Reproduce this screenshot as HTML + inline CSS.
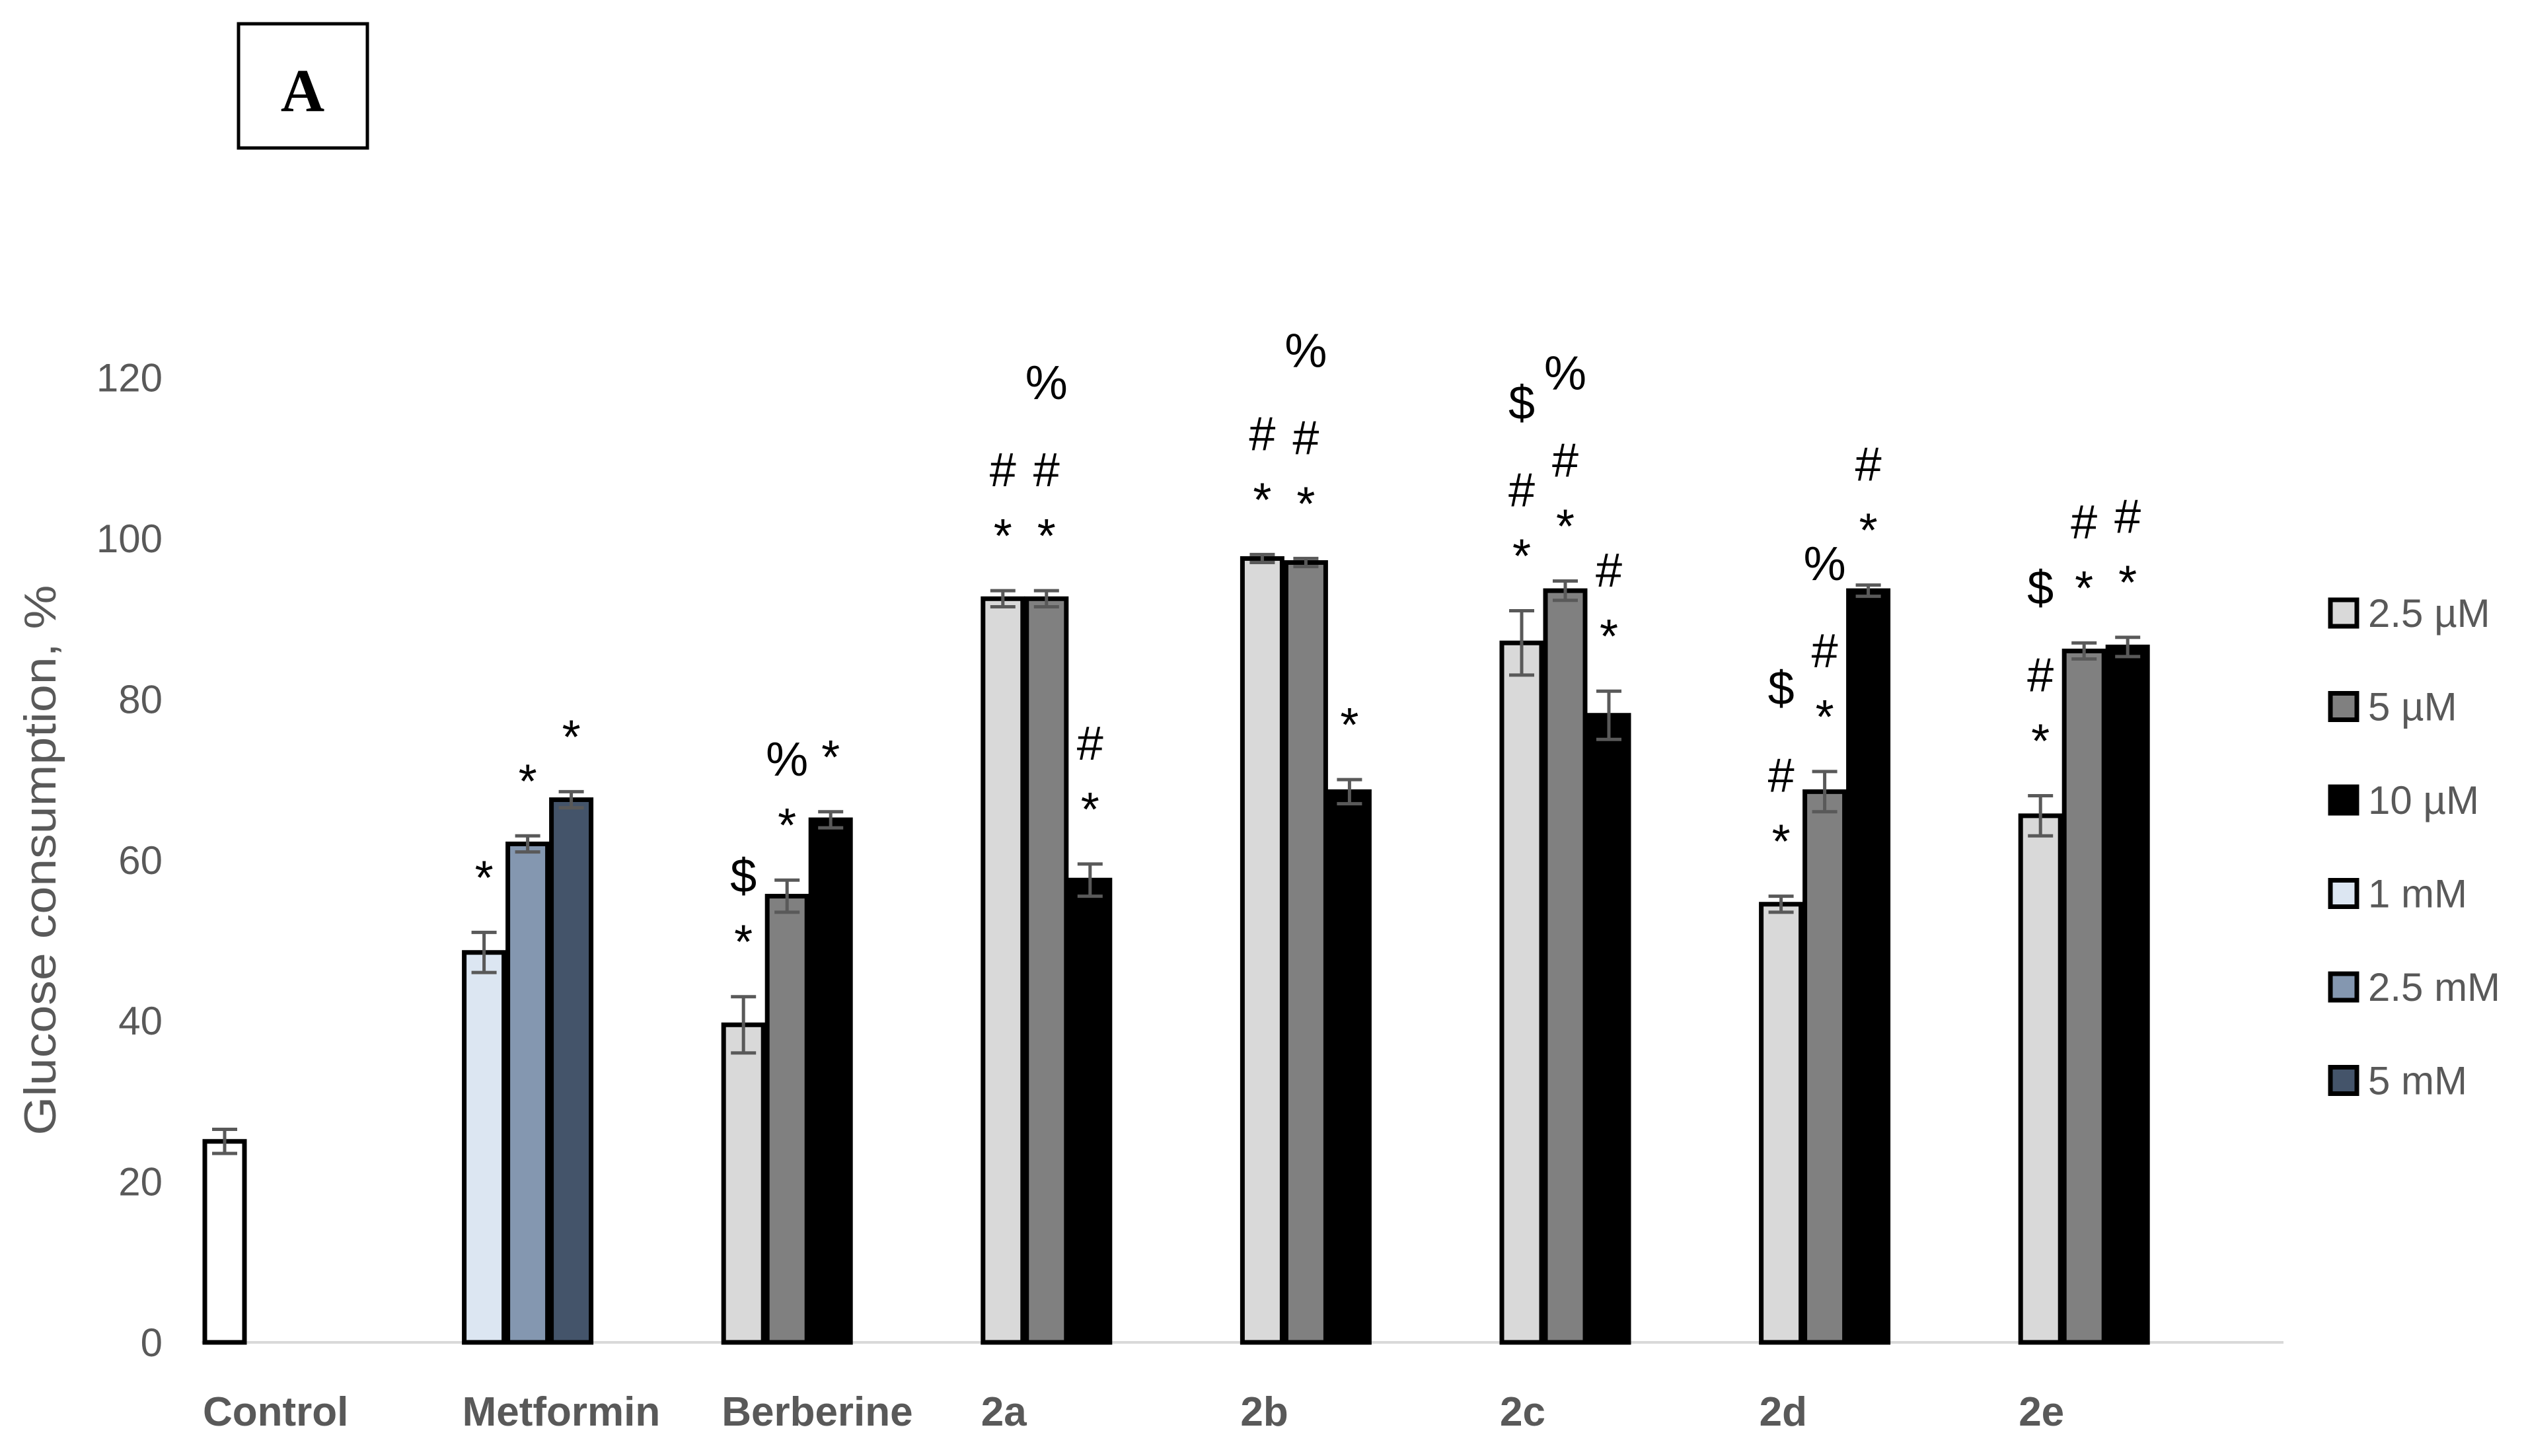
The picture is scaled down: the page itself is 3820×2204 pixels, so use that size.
<!DOCTYPE html>
<html><head><meta charset="utf-8"><style>
html,body{margin:0;padding:0;background:#fff;}
svg{display:block;}
</style></head><body>
<svg id="chart" width="3820" height="2204" viewBox="0 0 3820 2204" xmlns="http://www.w3.org/2000/svg">
<rect x="0" y="0" width="3820" height="2204" fill="#fff"/>
<rect x="361" y="36" width="195" height="188" fill="none" stroke="#000" stroke-width="5"/>
<text x="458" y="168" text-anchor="middle" font-family="Liberation Serif, serif" font-weight="bold" font-size="92" fill="#000">A</text>
<text transform="translate(84,1302) rotate(-90)" text-anchor="middle" textLength="833" lengthAdjust="spacingAndGlyphs" font-family="Liberation Sans, sans-serif" font-size="68" fill="#595959">Glucose consumption, %</text>
<g id="yticks"></g>
<g id="bars"></g>
<g id="xlabels"></g>
<g id="legend"></g>
</svg>
<script>
const categories = ["Control","Metformin","Berberine","2a","2b","2c","2d","2e"];
const values = [
  [25],
  [48.5,62,67.5],
  [39.5,55.5,65],
  [92.5,92.5,57.5],
  [97.5,97,68.5],
  [87,93.5,78],
  [54.5,68.5,93.5],
  [65.5,86,86.5]
];
const errors = [
  [1.5],
  [2.5,1,1],
  [3.5,2,1],
  [1,1,2],
  [0.5,0.5,1.5],
  [4,1.2,3],
  [1,2.5,0.7],
  [2.5,1,1.2]
];
const annotations = [
  [""],
  ["*","*","*"],
  ["*$","*%","*"],
  ["*#","*#%","*#"],
  ["*#","*#%","*"],
  ["*#$","*#%","*#"],
  ["*#$","*#%","*#"],
  ["*#$","*#","*#"]
];
const seriesColors = [
  ["#ffffff"],
  ["#dce6f2","#8497b0","#44546a"],
  ["#d9d9d9","#808080","#000000"],
  ["#d9d9d9","#808080","#000000"],
  ["#d9d9d9","#808080","#000000"],
  ["#d9d9d9","#808080","#000000"],
  ["#d9d9d9","#808080","#000000"],
  ["#d9d9d9","#808080","#000000"]
];
const yTicks = [0,20,40,60,80,100,120];
const legendLabels = ["2.5 µM","5 µM","10 µM","1 mM","2.5 mM","5 mM"];
const legendColors = ["#d9d9d9","#808080","#000000","#dce6f2","#8497b0","#44546a"];

const NS = "http://www.w3.org/2000/svg";
const Y0 = 2032, PXU = 12.17;
function y(v){ return Y0 - v*PXU; }
function x(ci, bi){ return 307 + 392.6*ci + bi*66; }
const BW = 66;
const LEVEL = [-50,-158,-290];
function mk(tag, attrs, parent, text){
  const e = document.createElementNS(NS, tag);
  for (const k in attrs) e.setAttribute(k, attrs[k]);
  if (text !== undefined) e.textContent = text;
  parent.appendChild(e);
  return e;
}
const gy = document.getElementById('yticks');
yTicks.forEach(t=>{
  const e = mk('text',{x:246,y:y(t)+21,'text-anchor':'end','font-family':'Liberation Sans, sans-serif','font-size':60,fill:'#595959'},gy,String(t));
  
  
});
const axis = mk('line',{x1:305,x2:3456,y1:Y0,y2:Y0,stroke:'#d9d9d9','stroke-width':4},gy);



const gb = document.getElementById('bars');
values.forEach((arr,ci)=>{
  arr.forEach((v,bi)=>{
    const bx = x(ci,bi);
    const r = mk('rect',{x:bx+3,y:y(v),width:BW-6,height:Y0-y(v),fill:seriesColors[ci][bi],stroke:'#000','stroke-width':7},gb);
    
    
    const cx = bx + BW/2, e = errors[ci][bi];
    const eb = mk('path',{d:`M${cx},${y(v+e)}V${y(v-e)}M${cx-19},${y(v+e)}H${cx+19}M${cx-19},${y(v-e)}H${cx+19}`,stroke:'#595959','stroke-width':5,fill:'none'},gb);
    
    
    const syms = annotations[ci][bi];
    for (let k=0;k<syms.length;k++){
      const s = syms[k];
      const base = y(v+e) + LEVEL[k] + (s==='*'?-8:0);
      const t = mk('text',{x:cx,y:base,'text-anchor':'middle','font-family':'Liberation Sans, sans-serif','font-size':72,fill:'#000'},gb,s);
      
      
    }
  });
});
const gx = document.getElementById('xlabels');
categories.forEach((c,ci)=>{
  const t = mk('text',{x:x(ci,0),y:2158,'font-family':'Liberation Sans, sans-serif','font-weight':'bold','font-size':62,fill:'#595959'},gx,c);
  
  
});
const gl = document.getElementById('legend');
legendLabels.forEach((l,i)=>{
  const cy = 928 + i*141.5;
  const r = mk('rect',{x:3527,y:cy-20,width:40,height:40,fill:legendColors[i],stroke:'#000','stroke-width':7},gl);
  
  
  const t = mk('text',{x:3584,y:cy+21,'font-family':'Liberation Sans, sans-serif','font-size':60,fill:'#595959'},gl,l);
  
  
});
</script>
</body></html>
